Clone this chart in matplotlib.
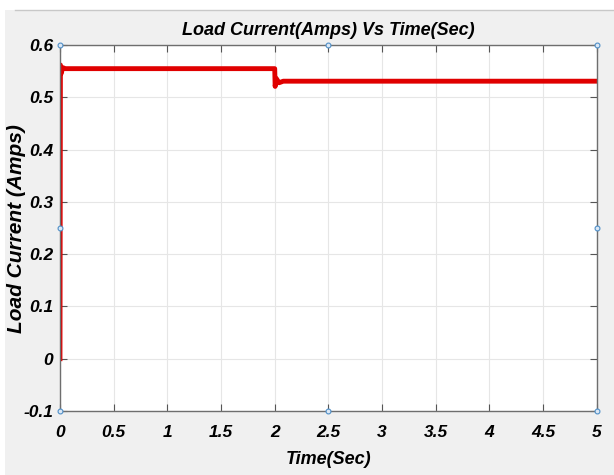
import matplotlib.pyplot as plt
from matplotlib.lines import Line2D
from matplotlib.patches import Rectangle

# Load current trace (step at t=0, load change at t=2 s)
time_sec = [0, 0.004, 0.012, 0.025, 0.05, 2.0, 2.004, 2.015, 2.04, 2.08, 5.0]
current_amps = [0, 0.562, 0.546, 0.557, 0.555, 0.555, 0.521, 0.536, 0.528, 0.531, 0.531]

x_ticks = [0, 0.5, 1, 1.5, 2, 2.5, 3, 3.5, 4, 4.5, 5]
x_tick_labels = ['0', '0.5', '1', '1.5', '2', '2.5', '3', '3.5', '4', '4.5', '5']
y_ticks = [-0.1, 0, 0.1, 0.2, 0.3, 0.4, 0.5, 0.6]
y_tick_labels = ['-0.1', '0', '0.1', '0.2', '0.3', '0.4', '0.5', '0.6']

fam = ['Liberation Sans', 'DejaVu Sans']
bi = dict(fontfamily=fam, fontstyle='italic', fontweight='bold')

fig = plt.figure(figsize=(6.14, 4.75), dpi=100)
fig.patch.set_facecolor('#f0f0f0')

# white strip along the top and left edge like the screenshot
fig.add_artist(Rectangle((0, 0.978), 1, 0.022, transform=fig.transFigure,
                         facecolor='white', edgecolor='none', zorder=0))
fig.add_artist(Rectangle((0, 0), 0.008, 1, transform=fig.transFigure,
                         facecolor='white', edgecolor='none', zorder=0))
fig.add_artist(Line2D([0.025, 1], [0.978, 0.978], transform=fig.transFigure,
                      color='#c8c8c8', lw=1))

ax = fig.add_axes([0.0977, 0.1347, 0.8743, 0.7703])
ax.set_facecolor('white')

ax.plot(time_sec, current_amps, color='#e00000', lw=3.5)

ax.set_xlim(0, 5)
ax.set_ylim(-0.1, 0.6)
ax.set_xticks(x_ticks)
ax.set_xticklabels(x_tick_labels, fontsize=12.5, **bi)
ax.set_yticks(y_ticks)
ax.set_yticklabels(y_tick_labels, fontsize=12.5, **bi)
ax.tick_params(axis='x', direction='in', length=5, color='#555555', pad=10,
               top=True)
ax.tick_params(axis='y', direction='in', length=5, color='#555555', pad=5,
               right=True)

ax.grid(True, color='#e6e6e6', lw=0.8)
for s in ax.spines.values():
    s.set_color('#6e6e6e')
    s.set_linewidth(1)

# small blue selection handles on the axes box
hx = [0, 2.5, 5, 0, 5, 0, 2.5, 5]
hy = [0.6, 0.6, 0.6, 0.25, 0.25, -0.1, -0.1, -0.1]
ax.plot(hx, hy, 'o', ms=3.5, mfc='#dce8f5', mec='#4f8fc8', mew=0.8,
        clip_on=False, zorder=5)

ax.set_title('Load Current(Amps) Vs Time(Sec)', fontsize=13, pad=7, **bi)
ax.set_xlabel('Time(Sec)', fontsize=13, labelpad=8, **bi)
ax.set_ylabel('Load Current (Amps)', fontsize=15, **bi)
ax.yaxis.set_label_coords(-0.063, 0.5)

fig.savefig('out.png', dpi=100, facecolor=fig.get_facecolor())
